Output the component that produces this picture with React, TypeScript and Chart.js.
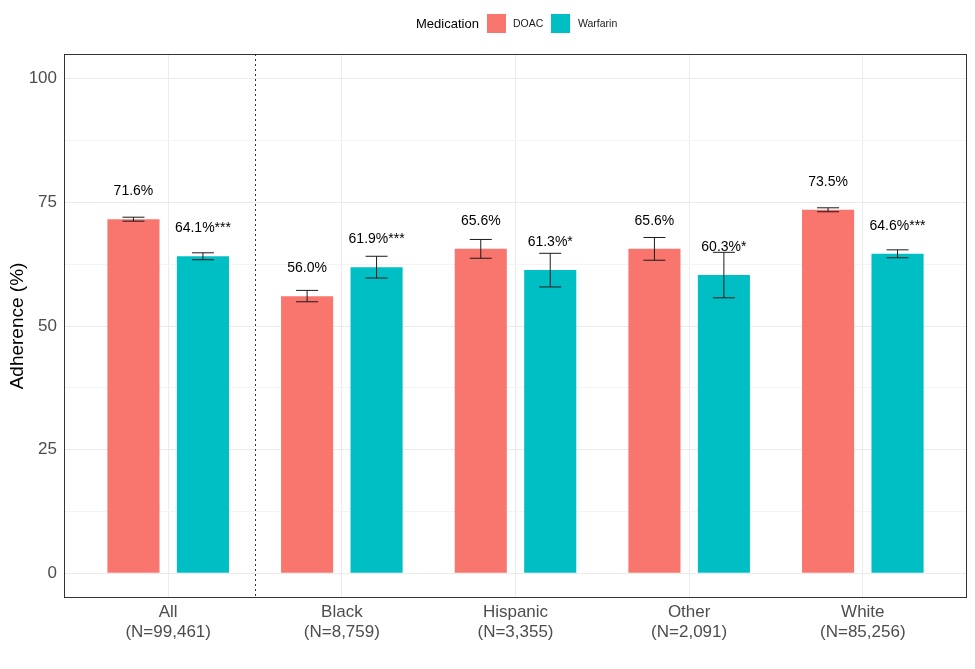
import React, { useEffect, useRef } from "react";
import { Chart, registerables } from "chart.js";

Chart.register(...registerables);

const CATEGORIES = ["All", "Black", "Hispanic", "Other", "White"];
const N_LABELS = ["(N=99,461)", "(N=8,759)", "(N=3,355)", "(N=2,091)", "(N=85,256)"];
const DOAC = [71.6, 56.0, 65.6, 65.6, 73.5];
const DOAC_LO = [71.2, 54.9, 63.7, 63.3, 73.1];
const DOAC_HI = [72.0, 57.2, 67.5, 67.9, 73.9];
const DOAC_LABELS = ["71.6%", "56.0%", "65.6%", "65.6%", "73.5%"];
const WARFARIN = [64.1, 61.9, 61.3, 60.3, 64.6];
const WARFARIN_LO = [63.4, 59.7, 57.9, 55.7, 63.8];
const WARFARIN_HI = [64.8, 64.1, 64.7, 64.9, 65.4];
const WARFARIN_LABELS = ["64.1%***", "61.9%***", "61.3%*", "60.3%*", "64.6%***"];
const Y_TICKS = [0, 12.5, 25, 37.5, 50, 62.5, 75, 87.5, 100];
const DIVIDER_X = 0.5;

const FONT = "'Liberation Sans', Arial, sans-serif";
const RED = "#F8766D";
const TEAL = "#00BFC4";

const overlayPlugin = {
  id: "overlay",
  beforeDatasetsDraw(chart: any) {
    const { ctx, chartArea, scales } = chart;
    const x = scales.x.getPixelForValue(DIVIDER_X);
    ctx.save();
    ctx.strokeStyle = "#333333";
    ctx.lineWidth = 1;
    ctx.setLineDash([2, 3]);
    ctx.beginPath();
    ctx.moveTo(Math.round(x) + 0.5, chartArea.top);
    ctx.lineTo(Math.round(x) + 0.5, chartArea.bottom);
    ctx.stroke();
    ctx.restore();
  },
  afterDatasetsDraw(chart: any) {
    const { ctx, chartArea, scales } = chart;
    const y = scales.y;
    const los = [DOAC_LO, WARFARIN_LO];
    const his = [DOAC_HI, WARFARIN_HI];
    const vals = [DOAC, WARFARIN];
    const labs = [DOAC_LABELS, WARFARIN_LABELS];
    ctx.save();
    for (let d = 0; d < 2; d++) {
      const meta = chart.getDatasetMeta(d);
      meta.data.forEach((bar: any, i: number) => {
        const cx = bar.x;
        const yl = y.getPixelForValue(los[d][i]);
        const yh = y.getPixelForValue(his[d][i]);
        const hw = 11;
        ctx.strokeStyle = "#1a1a1a";
        ctx.lineWidth = 1;
        ctx.setLineDash([]);
        ctx.beginPath();
        ctx.moveTo(cx, yl);
        ctx.lineTo(cx, yh);
        ctx.moveTo(cx - hw, yl);
        ctx.lineTo(cx + hw, yl);
        ctx.moveTo(cx - hw, yh);
        ctx.lineTo(cx + hw, yh);
        ctx.stroke();
        ctx.fillStyle = "#000000";
        ctx.font = `14px ${FONT}`;
        ctx.textAlign = "center";
        ctx.textBaseline = "middle";
        ctx.fillText(labs[d][i], cx, y.getPixelForValue(vals[d][i] + 5.6));
      });
    }
    // panel border
    ctx.strokeStyle = "#333333";
    ctx.lineWidth = 1;
    ctx.strokeRect(
      Math.round(chartArea.left) + 0.5,
      Math.round(chartArea.top) + 0.5,
      Math.round(chartArea.right - chartArea.left) - 1,
      Math.round(chartArea.bottom - chartArea.top) - 1
    );
    // legend
    ctx.textBaseline = "middle";
    ctx.textAlign = "left";
    ctx.fillStyle = "#000000";
    ctx.font = `13px ${FONT}`;
    ctx.fillText("Medication", 416, 24);
    ctx.fillStyle = RED;
    ctx.fillRect(487, 14, 19, 19);
    ctx.fillStyle = TEAL;
    ctx.fillRect(551, 14, 19, 19);
    ctx.fillStyle = "#1a1a1a";
    ctx.font = `10.5px ${FONT}`;
    ctx.fillText("DOAC", 513, 24);
    ctx.fillText("Warfarin", 578, 24);
    // y axis title
    ctx.save();
    ctx.translate(18, (chartArea.top + chartArea.bottom) / 2);
    ctx.rotate(-Math.PI / 2);
    ctx.textAlign = "center";
    ctx.fillStyle = "#000000";
    ctx.font = `19px ${FONT}`;
    ctx.fillText("Adherence (%)", 0, 0);
    ctx.restore();
    ctx.restore();
  },
};

export default function App() {
  const ref = useRef<HTMLCanvasElement | null>(null);
  useEffect(() => {
    document.body.style.margin = "0";
    const canvas = ref.current;
    if (!canvas) return;
    const chart = new Chart(canvas, {
      type: "bar",
      data: {
        datasets: [
          {
            label: "DOAC",
            data: DOAC.map((v, i) => ({ x: i, y: v })),
            backgroundColor: RED,
            borderWidth: 0,
          },
          {
            label: "Warfarin",
            data: WARFARIN.map((v, i) => ({ x: i, y: v })),
            backgroundColor: TEAL,
            borderWidth: 0,
          },
        ],
      },
      options: {
        animation: false,
        responsive: true,
        maintainAspectRatio: false,
        categoryPercentage: 0.8,
        barPercentage: 0.75,
        layout: { padding: { top: 54, right: 8, left: 0, bottom: 0 } },
        plugins: {
          legend: { display: false },
          tooltip: { enabled: false },
        },
        scales: {
          x: {
            type: "linear",
            min: -0.6,
            max: 4.6,
            offset: false,
            afterBuildTicks: (scale: any) => {
              scale.ticks = CATEGORIES.map((_, i) => ({ value: i }));
            },
            afterFit: (scale: any) => {
              scale.height = 71;
            },
            ticks: {
              autoSkip: false,
              maxRotation: 0,
              padding: 5,
              color: "#4D4D4D",
              font: { family: FONT, size: 17, lineHeight: 1.15 },
              callback: (v: any) => {
                const i = Math.round(Number(v));
                return [CATEGORIES[i], N_LABELS[i]];
              },
            },
            grid: { color: "#EBEBEB", lineWidth: 1, drawTicks: false, offset: false },
            border: { display: false },
          },
          y: {
            min: -5,
            max: 105,
            afterBuildTicks: (scale: any) => {
              scale.ticks = Y_TICKS.map((v) => ({ value: v }));
            },
            afterFit: (scale: any) => {
              scale.width = 64;
            },
            ticks: {
              padding: 7,
              color: "#4D4D4D",
              font: { family: FONT, size: 17 },
              callback: (v: any) => (Number(v) % 25 === 0 ? String(v) : ""),
            },
            grid: {
              color: (c: any) => (c.tick && c.tick.value % 25 === 0 ? "#EBEBEB" : "#F4F4F4"),
              lineWidth: 1,
              drawTicks: false,
            },
            border: { display: false },
          },
        },
      },
      plugins: [overlayPlugin],
    });
    return () => chart.destroy();
  }, []);
  return (
    <div style={{ width: 975, height: 669, position: "relative", background: "#fff" }}>
      <canvas ref={ref} />
    </div>
  );
}
